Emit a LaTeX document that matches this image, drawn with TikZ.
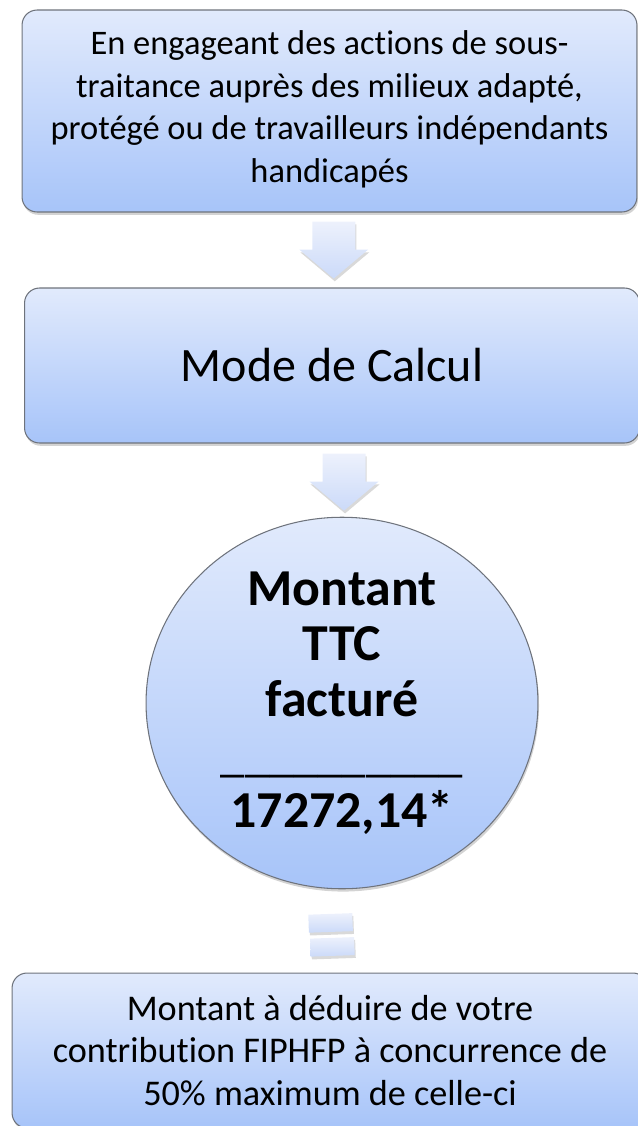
\documentclass[tikz,border=0pt]{standalone}
\usepackage{fontspec}
\setmainfont{Carlito}[Ligatures=NoCommon]
\usetikzlibrary{positioning, calc, shapes.geometric, shadows}
\definecolor{boxtop}{HTML}{E1EAFC}
\definecolor{boxbottom}{HTML}{A7C4F9}
\definecolor{boxline}{HTML}{6E737C}
\definecolor{arrowtop}{HTML}{EDF1FC}
\definecolor{arrowbottom}{HTML}{CBDAF9}
\tikzset{
    bluebox/.style={
        rectangle,
        rounded corners=0.3cm,
        draw=boxline, % 边框灰色
        line width=0.6pt,
        top color=boxtop, % 上浅下深
        bottom color=boxbottom,
        drop shadow={opacity=0.35, shadow xshift=0.6pt, shadow yshift=-1.6pt},
        align=center,
        inner sep=0,
        font=\fontsize{19.6}{24.2}\selectfont
    },
    bluecircle/.style={
        ellipse,
        draw=boxline,
        line width=0.6pt,
        top color=boxtop,
        bottom color=boxbottom,
        drop shadow={opacity=0.35, shadow xshift=0.6pt, shadow yshift=-1.6pt},
        align=center,
        inner sep=0,
        font=\bfseries\fontsize{29.5}{31.6}\selectfont
    },
    arrowfill/.style={
        top color=arrowtop,
        bottom color=arrowbottom,
        drop shadow={opacity=0.3, shadow xshift=0.6pt, shadow yshift=-1.6pt}
    },
    downarrow/.pic={
        \path[arrowfill] (-21.5,-28.5) -- (21.5,-28.5) -- (21.5,-0.5) -- (34.5,-0.5)
            -- (0,28.5) -- (-34.5,-0.5) -- (-21.5,-0.5) -- cycle;
    },
    equalsign/.pic={
        \path[arrowfill, rotate=2] (-22,-21) rectangle (22,-3);
        \path[arrowfill, rotate=2] (-21,3) rectangle (23,21);
    }
}
\newcommand{\trait}{{\mdseries\fontsize{27.7}{31.6}\selectfont\_\_\_\_\_\_\_\_\_\_}}

\begin{document}
\begin{tikzpicture}[x=0.02cm, y=-0.02cm]
    \useasboundingbox (0,0) rectangle (638,1126);
    \clip (0,0) rectangle (638,1126);
    % 三个方框与圆
    \node[bluebox, minimum width=12.3cm, minimum height=4.04cm] (engage) at (329.5,111)
        {En engageant des actions de sous-\\traitance auprès des milieux adapté,\\protégé ou de travailleurs indépendants\\handicapés\vphantom{$\Big|$}};
    \node[bluebox, minimum width=12.3cm, minimum height=3.1cm,
          font=\fontsize{27.3}{31}\selectfont] (mode) at (332,365.5) {Mode de Calcul};
    \node[bluecircle, minimum width=7.84cm, minimum height=7.4cm] (montant) at (342,703)
        {Montant\\TTC\\facturé\\\trait\\17272,14*};
    \node[bluebox, minimum width=12.72cm, minimum height=3.1cm,
          font=\fontsize{20.6}{24}\selectfont] (deduire) at (330,1050.5)
        {Montant à déduire de votre\\contribution FIPHFP à concurrence de\\50\% maximum de celle-ci};
    % 箭头与等号
    \pic at ($(engage.south)!0.5!(mode.north)+(3,0)$) {downarrow};
    \pic at ($(mode.south)!0.5!(montant.north)+(7,2)$) {downarrow};
    \pic at ($(montant.south)!0.5!(deduire.north)+(-5,4)$) {equalsign};
\end{tikzpicture}
\end{document}
